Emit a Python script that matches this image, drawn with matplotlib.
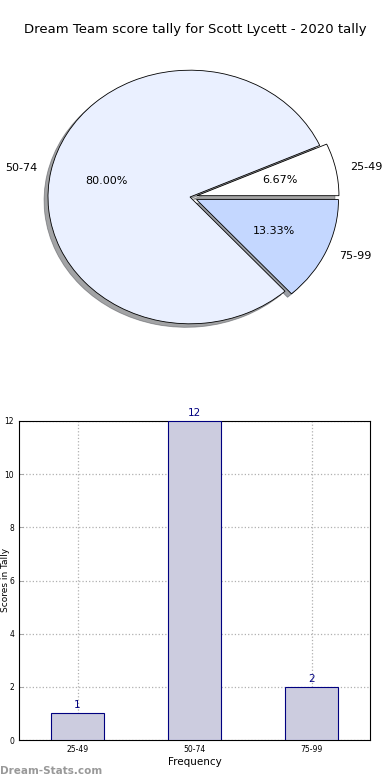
import matplotlib
matplotlib.use('Agg')
import matplotlib.pyplot as plt

categories = ['25-49', '50-74', '75-99']
tally = [1, 12, 2]
pie_colors = ['#ffffff', '#eaf0ff', '#c4d7ff']
explode = [0.05, 0, 0.05]

def main():
    fig = plt.figure(figsize=(3.9, 7.8), dpi=100)

    # pie on top, stretched (not equal aspect) like the old site output
    ax1 = fig.add_axes([12.5 / 390, 1 - 355.5 / 780, 355 / 390, 317 / 780])
    wedges, texts, autotexts = ax1.pie(tally, labels=categories, colors=pie_colors,
                                       explode=explode, autopct='%.2f%%', shadow=True,
                                       startangle=0,
                                       wedgeprops={'edgecolor': 'black', 'linewidth': 0.6},
                                       textprops={'fontsize': 8})
    ax1.set_aspect('auto')
    ax1.set_xlim(-1.25, 1.25)
    ax1.set_ylim(-1.25, 1.25)
    fig.text(0.5, 1 - 30 / 780, 'Dream Team score tally for Scott Lycett - 2020 tally',
             ha='center', va='center', fontsize=9.5)

    # bar chart underneath
    ax2 = fig.add_axes([19 / 390, 1 - 740 / 780, 351 / 390, 319 / 780])
    x = range(len(categories))
    ax2.bar(x, tally, width=0.45, color='#ccccdf', edgecolor='#000080', linewidth=0.8,
            zorder=3)
    for i, v in enumerate(tally):
        ax2.text(i, v + 0.12, str(v), ha='center', va='bottom', fontsize=7.5,
                 color='#000080')
    ax2.set_xticks(list(x))
    ax2.set_xticklabels(categories, fontsize=5.5)
    ax2.set_xlim(-0.5, 2.5)
    ax2.set_ylim(0, 12)
    ax2.set_yticks(range(0, 13, 2))
    ax2.tick_params(axis='y', labelsize=5.5)
    ax2.tick_params(direction='in', length=3, width=0.5, colors='#888888',
                    labelcolor='black')
    ax2.grid(True, linestyle=':', color='#b0b0b0', linewidth=0.9, zorder=0)
    ax2.set_axisbelow(True)
    ax2.set_xlabel('Frequency', fontsize=7.5, labelpad=2)
    for s in ax2.spines.values():
        s.set_linewidth(0.8)
    # y label squeezed against the left edge, as on the site
    fig.text(0.5 / 390, 1 - 580 / 780, 'Scores in Tally', rotation=90, fontsize=6.5,
             ha='left', va='center')

    fig.text(0.0, 1 - 771 / 780, 'Dream-Stats.com', fontsize=7.5, fontweight='bold',
             color='#999999', ha='left', va='center')

    fig.savefig('out.png', dpi=100)

main()
